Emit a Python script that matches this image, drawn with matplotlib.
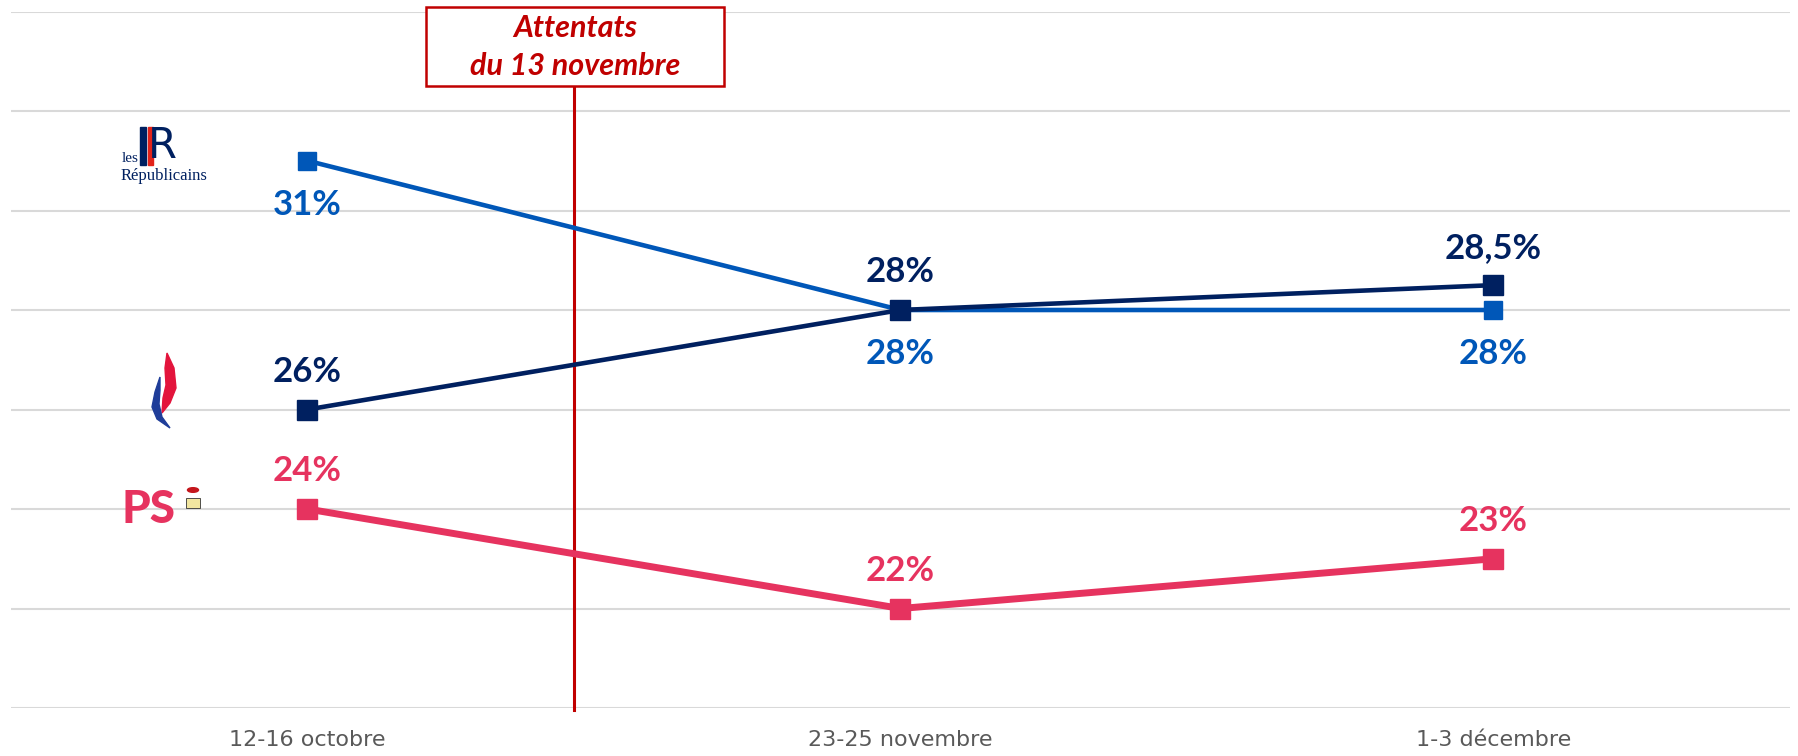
import matplotlib
matplotlib.use("Agg")
import matplotlib.pyplot as plt
from matplotlib.patches import Rectangle, Polygon, Circle

# data
periods = ["12-16 octobre", "23-25 novembre", "1-3 décembre"]
lr_values = [31, 28, 28]
fn_values = [26, 28, 28.5]
ps_values = [24, 22, 23]
lr_labels = ["31%", "28%", "28%"]
fn_labels = ["26%", "28%", "28,5%"]
ps_labels = ["24%", "22%", "23%"]
event_text = ["Attentats", "du 13 novembre"]

LR_COL = "#0057B8"
FN_COL = "#002060"
PS_COL = "#E6335F"
EV_COL = "#C00000"

W, H = 1799, 756
fig = plt.figure(figsize=(W / 100, H / 100), dpi=100)
ax = fig.add_axes([11 / W, 48 / H, 1779 / W, 696.5 / H])

x = list(range(len(periods)))
ax.set_xlim(-0.5, 2.5)
ax.set_ylim(20, 34)
ax.set_yticks(range(20, 35, 2))
ax.yaxis.grid(True, color="#D9D9D9", lw=1.5)
ax.set_axisbelow(True)
for s in ax.spines.values():
    s.set_visible(False)
ax.tick_params(axis="y", left=False, labelleft=False)
ax.set_xticks(x)
ax.set_xticklabels(periods, fontsize=16, color="#595959")
ax.tick_params(axis="x", length=0, pad=16)

# event line + box
ax.plot([0.45, 0.45], [19.95, 32.5], color=EV_COL, lw=2.2, zorder=2, clip_on=False)
ax.add_patch(Rectangle((0.2, 32.5), 0.502, 1.6, facecolor="white", edgecolor=EV_COL,
                       lw=1.8, zorder=5, clip_on=False))
ax.text(0.451, 33.66, event_text[0], ha="center", va="center", color=EV_COL,
        family="Lato", weight="bold", style="italic", fontsize=22, zorder=6)
ax.text(0.451, 32.91, event_text[1], ha="center", va="center", color=EV_COL,
        family="Lato", weight="bold", style="italic", fontsize=22, zorder=6)

# lines
ax.plot(x, lr_values, color=LR_COL, lw=3.3, marker="s", markersize=13, zorder=3)
ax.plot(x, fn_values, color=FN_COL, lw=3.3, marker="s", markersize=14, zorder=4)
ax.plot(x, ps_values, color=PS_COL, lw=5, marker="s", markersize=15, zorder=4)

lab_kw = dict(ha="center", va="center", family="Lato", weight="bold", fontsize=25,
              textcoords="offset points")
for i in range(3):
    ax.annotate(lr_labels[i], (x[i], lr_values[i]), xytext=(0, -32), color=LR_COL, **lab_kw)
    ax.annotate(fn_labels[i], (x[i], fn_values[i]), xytext=(0, 27), color=FN_COL, **lab_kw)
    ax.annotate(ps_labels[i], (x[i], ps_values[i]), xytext=(0, 27), color=PS_COL, **lab_kw)


# logos (drawn roughly, positioned in figure pixels)
def fp(px, py):
    return (px / W, 1 - py / H)


fig.text(*fp(122, 159), "les", color=FN_COL, family="Liberation Serif", fontsize=11,
         ha="left", va="center")
fig.patches.append(Rectangle(fp(140, 165), 6 / W, 38 / H, color=FN_COL,
                             transform=fig.transFigure))
fig.patches.append(Rectangle(fp(148, 165), 5 / W, 38 / H, color="#E2231A",
                             transform=fig.transFigure))
fig.text(*fp(148, 146), "R", color=FN_COL, family="DejaVu Sans", fontsize=30,
         ha="left", va="center")
fig.text(*fp(121, 176), "Républicains", color=FN_COL, family="Liberation Serif",
         fontsize=12, ha="left", va="center")

red_flame = [(167, 353), (174, 368), (176, 388), (170, 403), (162, 413),
             (163, 398), (166, 385), (165, 368)]
blue_flame = [(160, 377), (155, 392), (152, 407), (157, 419), (170, 428),
              (162, 417), (159, 404), (160, 390)]
fig.patches.append(Polygon([fp(a, b) for a, b in red_flame], closed=True,
                           color="#E3143C", transform=fig.transFigure))
fig.patches.append(Polygon([fp(a, b) for a, b in blue_flame], closed=True,
                           color="#1F3D99", transform=fig.transFigure))

fig.text(*fp(122, 510), "PS", color=PS_COL, family="Lato", weight="black",
         fontsize=33, ha="left", va="center")
fig.patches.append(Circle(fp(193, 490), 5.5 / W, color="#C4161C",
                          transform=fig.transFigure))
fig.patches.append(Rectangle(fp(186, 508), 14 / W, 10 / H, facecolor="#F2E6A0",
                             edgecolor="#333333", lw=0.6, transform=fig.transFigure))

fig.savefig("out.png", dpi=100, facecolor="white")
